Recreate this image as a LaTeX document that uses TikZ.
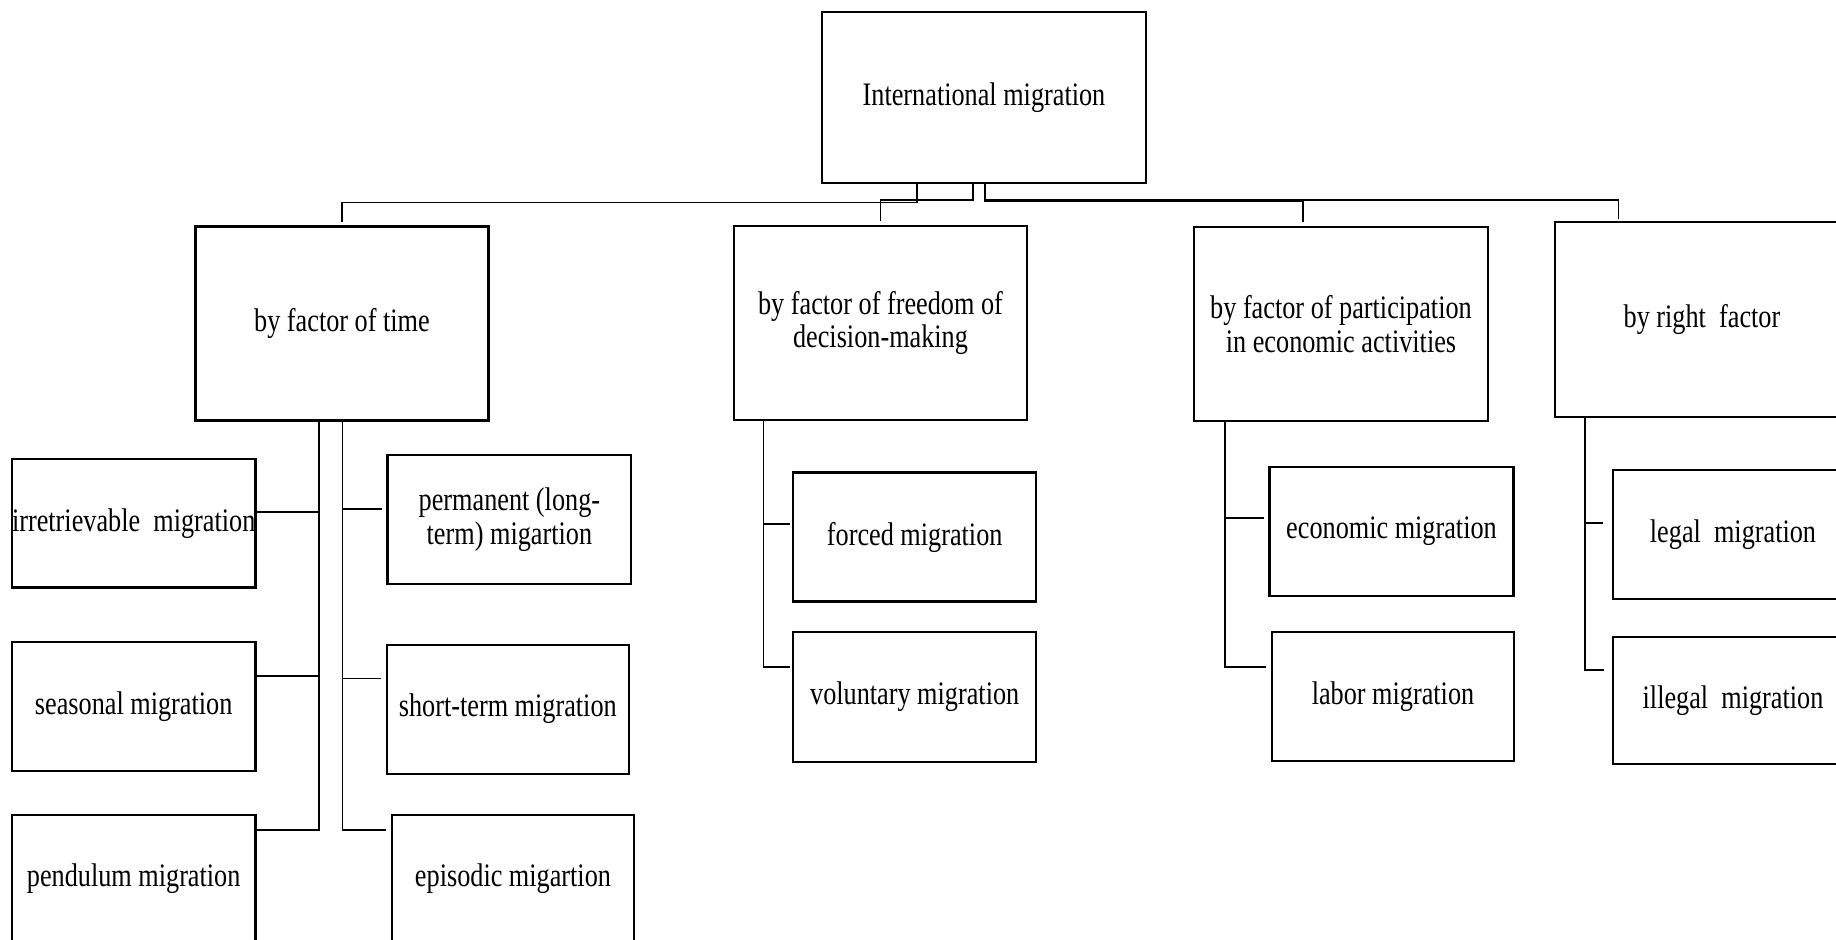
\documentclass[tikz,border=0pt]{standalone}
\usepackage{fontspec}
\setmainfont{Liberation Serif}[FakeStretch=0.8]
\begin{document}
\begin{tikzpicture}[x=0.5pt,y=-0.5pt,
  bx/.style={draw=black, line width=1.1pt, fill=white, inner sep=0pt, align=center,
    font=\fontsize{16.4pt}{16.9pt}\selectfont},
  big/.style={bx, minimum width=146.5pt, minimum height=97pt},
  leaf/.style={bx, minimum width=121.5pt, minimum height=64.5pt},
  ln/.style={draw=black, line width=0.9pt}]
\useasboundingbox (0,0) rectangle (1836,939);
\fill[white] (0,0) rectangle (1836,939);
\clip (0,0) rectangle (1836,939);

% top
\node[bx, minimum width=162pt, minimum height=85.5pt] (root) at (984,97.3) {International migration};

% level 1
\node[big] (b1) at (342,323.5) {by factor of time};
\node[big, minimum height=96.75pt] (b2) at (880.5,323) {by factor of freedom of\\decision-making};
\node[big, minimum width=147.3pt] (b3) at (1341,324) {by factor of participation\\in economic activities};
\node[big, minimum width=147pt, minimum height=97.5pt] (b4) at (1702,319.8) {by right\ \ factor};

% leaves, time
\node[leaf, minimum width=121.7pt, minimum height=64.2pt] (irr) at (133.7,523.2) {irretrievable\ \ migration};
\node[leaf, minimum width=121.7pt] (sea) at (133.7,706.3) {seasonal migration};
\node[leaf, minimum width=121.7pt, minimum height=64pt] (pen) at (133.7,879) {pendulum migration};
\node[leaf, minimum width=121.9pt] (per) at (509.4,519.5) {permanent (long-\\term) migartion};
\node[leaf, minimum width=121.2pt] (sho) at (507.8,709.1) {short-term migration};
\node[leaf, minimum width=121pt, minimum height=64pt] (epi) at (513,879) {episodic migartion};

% leaves, freedom
\node[leaf] (for) at (914.7,537) {forced migration};
\node[leaf, minimum height=65pt] (vol) at (914.7,696.7) {voluntary migration};

% leaves, economic
\node[leaf, minimum width=122pt] (eco) at (1391.5,531.2) {economic migration};
\node[leaf, minimum width=121pt] (lab) at (1393,696.7) {labor migration};

% leaves, right
\node[leaf, minimum width=120pt] (leg) at (1733,534.5) {legal\ \ migration};
\node[leaf, minimum width=120pt, minimum height=63.7pt] (ill) at (1733,700.3) {illegal\ \ migration};

% connectors from root
\coordinate (h1) at (342,202.5);
\coordinate (h2) at (880.5,200);
\coordinate (h3) at (1303,201.3);
\coordinate (h4) at (1618.5,199.8);
\draw[ln, shorten >=1.9pt] (root.south -| 917,0) |- (h1) -- (b1.north);
\draw[ln, shorten >=2pt] (root.south -| 973,0) |- (h2) -- (b2.north);
\draw[ln, shorten >=1.9pt] (root.south -| 985,0) |- (h3) -- (b3.north -| h3);
\draw[ln, shorten >=1.2pt] (root.south -| 985,0) |- (h4) -- (b4.north -| h4);

% time: left spine
\coordinate (ls) at (319,829.6);
\draw[ln] (b1.south -| ls) -- (ls) -- (pen.east |- ls);
\draw[ln] (irr.east |- 0,511.7) -- (319,511.7);
\draw[ln] (sea.east |- 0,676) -- (319,676);
% time: right spine
\coordinate (rs) at (342.4,830.2);
\draw[ln, shorten >=2.6pt] (b1.south -| rs) -- (rs) -- (epi.west |- rs);
\draw[ln, shorten >=2.2pt] (342.4,508.6) -- (per.west |- 0,508.6);
\draw[ln, shorten >=2.2pt] (342.4,678.4) -- (sho.west |- 0,678.4);

% freedom spine
\coordinate (fs) at (763.5,666.7);
\draw[ln, shorten >=1.1pt] (b2.south -| fs) -- (fs) -- (vol.west |- fs);
\draw[ln, shorten >=1.1pt] (763.5,524) -- (for.west |- 0,524);

% economic spine
\coordinate (es) at (1225,666.7);
\draw[ln, shorten >=2.3pt] (b3.south -| es) -- (es) -- (lab.west |- es);
\draw[ln, shorten >=2.1pt] (1225,518.3) -- (eco.west |- 0,518.3);

% right spine
\coordinate (gs) at (1585,670);
\draw[ln, shorten >=4.2pt] (b4.south -| gs) -- (gs) -- (ill.west |- gs);
\draw[ln, shorten >=4.3pt] (1585,522.7) -- (leg.west |- 0,522.7);
\end{tikzpicture}
\end{document}
